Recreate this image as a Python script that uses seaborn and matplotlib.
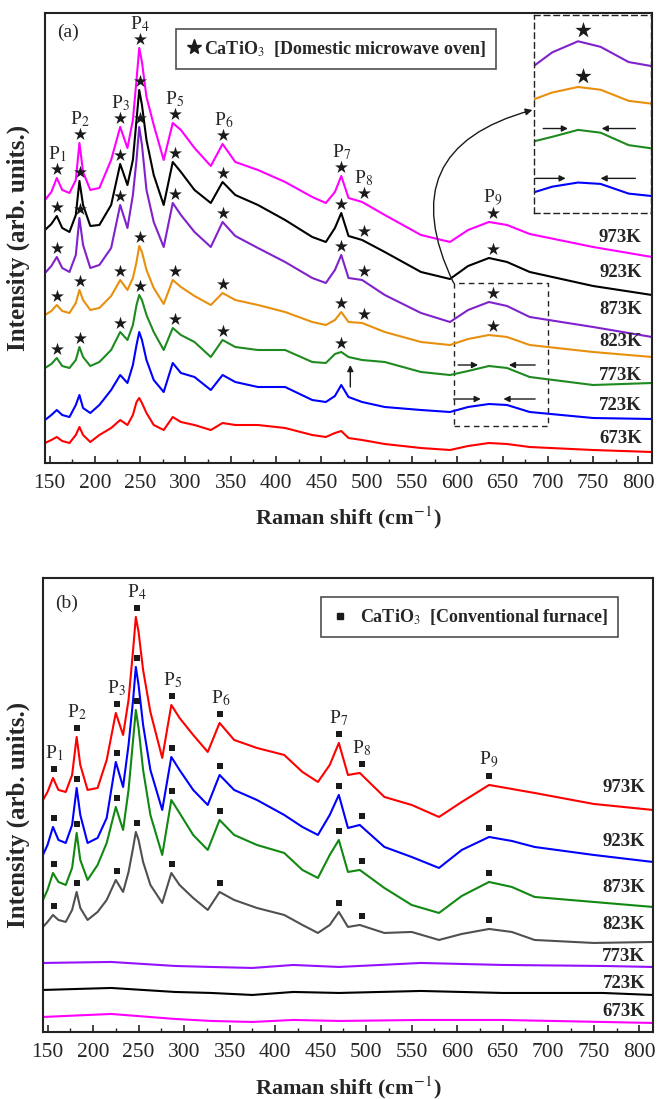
import numpy as np
import pandas as pd
import matplotlib
matplotlib.use("Agg")
import matplotlib.pyplot as plt
from matplotlib.lines import Line2D
from matplotlib.patches import Rectangle
import seaborn as sns

# ---------------- data (arb. units) ----------------
temps = ["973K", "923K", "873K", "823K", "773K", "723K", "673K"]
peak_names = ["1", "2", "3", "4", "5", "6", "7", "8", "9"]

# panel (a): domestic microwave oven
shift_a = [145, 152, 158, 164, 172, 179, 183, 187, 195, 205, 218, 228, 236, 242, 246, 249, 252, 257, 265, 276,
           286, 295, 310, 328, 341, 355, 380, 410, 440, 455, 465, 472, 480, 495, 520, 560, 592, 612, 635, 655,
           680, 750, 815]
mw_973 = [263, 271, 285, 273, 270, 283, 320, 291, 273, 275, 303, 336, 315, 343, 383, 415, 401, 366, 338, 303,
          340, 333, 315, 297, 319, 301, 293, 281, 266, 260, 271, 287, 265, 261, 248, 228, 221, 233, 241, 238,
          229, 216, 206]
mw_923 = [233, 239, 247, 235, 231, 248, 282, 258, 237, 238, 258, 299, 278, 303, 343, 373, 358, 323, 288, 258,
          301, 291, 273, 260, 281, 268, 258, 243, 226, 221, 235, 250, 227, 223, 211, 191, 184, 197, 205, 201,
          191, 177, 168]
mw_873 = [190, 197, 206, 195, 191, 208, 245, 218, 195, 198, 215, 258, 235, 268, 303, 336, 318, 273, 241, 216,
          260, 248, 231, 216, 241, 227, 215, 201, 185, 180, 193, 208, 185, 183, 168, 150, 141, 153, 161, 157,
          146, 136, 126]
mw_823 = [148, 152, 158, 152, 150, 160, 173, 163, 153, 155, 167, 183, 173, 185, 201, 217, 211, 193, 175, 159,
          183, 176, 167, 158, 170, 163, 158, 151, 141, 138, 143, 151, 141, 140, 131, 121, 118, 124, 128, 126,
          118, 111, 106]
mw_773 = [95, 99, 105, 97, 95, 103, 116, 106, 97, 101, 113, 131, 123, 138, 158, 168, 163, 148, 131, 113,
          135, 128, 121, 106, 123, 116, 113, 113, 101, 100, 109, 111, 106, 103, 101, 91, 88, 92, 97, 95,
          86, 78, 80]
mw_723 = [43, 48, 53, 48, 46, 58, 68, 55, 50, 58, 73, 88, 80, 98, 118, 131, 123, 103, 83, 71,
          100, 90, 86, 73, 88, 81, 76, 76, 63, 61, 67, 78, 66, 61, 56, 53, 51, 56, 59, 58,
          51, 45, 44]
mw_673 = [20, 23, 26, 22, 20, 28, 36, 28, 21, 28, 35, 43, 38, 48, 61, 65, 60, 50, 38, 33,
          46, 41, 38, 33, 40, 38, 38, 35, 28, 26, 30, 32, 25, 23, 19, 15, 13, 17, 20, 19,
          16, 13, 11]
peaks_a = [158, 184, 228, 250, 288, 342, 472, 497, 639]

# panel (b): conventional furnace
shift_b = [145, 150, 156, 162, 170, 177, 182, 186, 194, 205, 215, 225, 233, 239, 244, 247, 250, 255, 263, 276,
           286, 295, 310, 326, 339, 355, 380, 410, 430, 447, 460, 470, 480, 493, 520, 550, 580, 605, 635, 660,
           685, 750, 815]
cf_973 = [232, 240, 254, 242, 240, 257, 295, 267, 242, 244, 272, 319, 297, 332, 382, 415, 400, 362, 320, 274,
          327, 314, 297, 280, 309, 292, 284, 277, 260, 250, 267, 289, 257, 259, 235, 227, 215, 230, 247, 243,
          239, 228, 222]
cf_923 = [177, 187, 205, 192, 189, 207, 244, 217, 189, 194, 214, 270, 245, 287, 332, 365, 347, 307, 262, 222,
          275, 262, 242, 227, 257, 242, 232, 217, 205, 197, 217, 237, 204, 207, 185, 175, 164, 182, 195, 191,
          185, 177, 170]
cf_873 = [132, 142, 159, 150, 147, 164, 199, 172, 152, 167, 189, 225, 202, 242, 292, 322, 304, 262, 217, 177,
          232, 219, 197, 182, 212, 197, 187, 179, 162, 154, 177, 192, 160, 162, 144, 127, 119, 136, 150, 145,
          135, 130, 125]
cf_823 = [105, 110, 117, 112, 110, 122, 140, 124, 112, 120, 132, 152, 140, 160, 184, 200, 192, 170, 147, 129,
          159, 147, 134, 122, 140, 132, 124, 117, 107, 99, 107, 120, 105, 107, 99, 100, 92, 98, 103, 100,
          92, 89, 90]
shift_flat = [145, 220, 290, 330, 375, 420, 470, 560, 650, 760, 815]
cf_773 = [69, 70, 66, 65, 64, 67, 65, 69, 67, 66, 65]
cf_723 = [42, 44, 40, 39, 37, 40, 39, 41, 39, 39, 37]
cf_673 = [15, 18, 13, 11, 10, 12, 11, 12, 12, 10, 9]
peaks_b = [157, 182, 226, 248, 287, 340, 470, 495, 635]

colors_a = ["#ff00ff", "#000000", "#7f22cc", "#e8900e", "#1f8a1f", "#0000ff", "#ff0000"]
colors_b = ["#ff0000", "#0000ff", "#118811", "#505050", "#9311ff", "#000000", "#ff00ff"]

# ---------------- style ----------------
sns.set_theme(style="ticks")
plt.rcParams["font.family"] = ["Liberation Serif", "DejaVu Sans"]
plt.rcParams["mathtext.fontset"] = "stix"


def spectra_frame(parts):
    rows = [pd.DataFrame({"shift": x, "intensity": v, "temp": t}) for t, x, v in parts]
    return pd.concat(rows, ignore_index=True)


def peak_tops(x, vals, peaks, offset, win=6):
    x = np.asarray(x)
    v = np.asarray(vals)
    return [v[np.abs(x - p) <= win].max() + offset for p in peaks]


def style_axis(ax, ylim):
    ax.set_xlim(145, 815)
    ax.set_ylim(*ylim)
    ax.set_yticks([])
    ax.set_xticks(np.arange(150, 801, 50))
    ax.set_xticks(np.arange(175, 801, 50), minor=True)
    ax.tick_params(axis="x", which="major", direction="in", length=5, width=1.2, labelsize=15.5, pad=8)
    ax.tick_params(axis="x", which="minor", direction="in", length=3, width=1.0)
    for s in ax.spines.values():
        s.set_linewidth(1.5)
        s.set_color("#222222")
    ax.set_xlabel("Raman shift (cm$^{-1}$)", fontsize=16, fontweight="bold")
    ax.set_ylabel("Intensity (arb. units.)", fontsize=18, fontweight="bold")
    ax.xaxis.set_label_coords(0.5, -0.093)
    ax.yaxis.set_label_coords(-0.025, 0.5)


def arrow(ax, tail, head, **kw):
    ax.annotate("", xy=head, xytext=tail,
                arrowprops=dict(arrowstyle="-|>", color="k", lw=1.0, mutation_scale=9, shrinkA=0, shrinkB=0, **kw))


fig = plt.figure(figsize=(6.58, 10.99), dpi=100)
ax_a = fig.add_axes([0.0684, 0.5787, 0.9225, 0.4095])
ax_b = fig.add_axes([0.0653, 0.0610, 0.9270, 0.4131])

# ---------------- panel (a) ----------------
curves_a = [mw_973, mw_923, mw_873, mw_823, mw_773, mw_723, mw_673]
df_a = spectra_frame([(t, shift_a, v) for t, v in zip(temps, curves_a)])
sns.lineplot(data=df_a, x="shift", y="intensity", hue="temp", palette=dict(zip(temps, colors_a)),
             estimator=None, sort=False, lw=1.5, legend=False, ax=ax_a)

n_marked_a = [9, 9, 9, 9, 7, 0, 0]
for vals, n in zip(curves_a, n_marked_a):
    if n:
        ax_a.scatter(peaks_a[:n], peak_tops(shift_a, vals, peaks_a[:n], 9), marker="*", s=95,
                     color="k", linewidths=0, zorder=5)
for p, y, name in zip(peaks_a, peak_tops(shift_a, mw_973, peaks_a, 24), peak_names):
    ax_a.text(p, y, f"P$_{name}$", ha="center", va="center", fontsize=14)

label_h_a = [225, 190, 153, 121, 88, 58, 25]
for t, h in zip(temps, label_h_a):
    ax_a.text(780, h, t, ha="center", va="center", fontsize=13.5, fontweight="bold")

# dashed zoom box + arrows marking the P9 doublet
ax_a.add_patch(Rectangle((596, 37), 104, 143, fill=False, ls=(0, (4, 3)), lw=1.0, ec="#222222"))
arrow(ax_a, (601, 98), (623, 98))
arrow(ax_a, (686, 98), (657, 98))
arrow(ax_a, (596, 64), (626, 64))
arrow(ax_a, (686, 64), (651, 64))
arrow(ax_a, (482, 76), (482, 98))
ax_a.annotate("", xy=(683, 353), xytext=(596, 180),
              arrowprops=dict(arrowstyle="-|>", color="k", lw=1.0, mutation_scale=10,
                              connectionstyle="arc3,rad=-0.6", shrinkA=0, shrinkB=0))

# inset: magnified P9 region
ins = ax_a.inset_axes([685, 250, 129, 198], transform=ax_a.transData)
df_in = spectra_frame([(t, shift_a, v) for t, v in zip(temps[2:6], curves_a[2:6])])
sns.lineplot(data=df_in, x="shift", y="intensity", hue="temp", palette=dict(zip(temps[2:6], colors_a[2:6])),
             estimator=None, sort=False, lw=1.5, legend=False, ax=ins)
ins.set_xlim(596, 700)
ins.set_ylim(37, 180)
ins.set_xticks([])
ins.set_yticks([])
ins.set_xlabel("")
ins.set_ylabel("")
for s in ins.spines.values():
    s.set_linestyle((0, (4, 3)))
    s.set_linewidth(1.0)
    s.set_color("#222222")
for vals in (mw_873, mw_823):
    ins.scatter([639], peak_tops(shift_a, vals, [639], 8), marker="*", s=150, color="k", linewidths=0, zorder=5)
arrow(ins, (604, 98), (626, 98))
arrow(ins, (686, 98), (656, 98))
arrow(ins, (597, 62), (624, 62))
arrow(ins, (686, 62), (655, 62))

style_axis(ax_a, (0, 450))
ax_a.text(0.02, 0.956, "(a)", transform=ax_a.transAxes, ha="left", va="center", fontsize=14)
leg_a = ax_a.legend(handles=[Line2D([], [], marker="*", ls="none", color="k", ms=11)],
                    labels=["CaTiO$_3$  [Domestic microwave oven]"], loc="upper left",
                    bbox_to_anchor=(0.215, 0.965), frameon=True, fancybox=False, edgecolor="#222222",
                    prop=dict(weight="bold", size=13), handletextpad=0.05, handlelength=1.0,
                    borderpad=0.55, borderaxespad=0)
leg_a.get_frame().set_linewidth(1.2)

# ---------------- panel (b) ----------------
curves_b = [cf_973, cf_923, cf_873, cf_823, cf_773, cf_723, cf_673]
shifts_b = [shift_b] * 4 + [shift_flat] * 3
df_b = spectra_frame([(t, x, v) for t, x, v in zip(temps, shifts_b, curves_b)])
sns.lineplot(data=df_b, x="shift", y="intensity", hue="temp", palette=dict(zip(temps, colors_b)),
             estimator=None, sort=False, lw=1.5, legend=False, ax=ax_b)

for vals in curves_b[:4]:
    ax_b.scatter(peaks_b, peak_tops(shift_b, vals, peaks_b, 9), marker="s", s=22,
                 color="k", linewidths=0, zorder=5)
for p, y, name in zip(peaks_b, peak_tops(shift_b, cf_973, peaks_b, 25), peak_names):
    ax_b.text(p, y, f"P$_{name}$", ha="center", va="center", fontsize=14)

label_h_b = [244, 190, 144, 107, 75, 48, 20]
for t, h in zip(temps, label_h_b):
    ax_b.text(783, h, t, ha="center", va="center", fontsize=13.5, fontweight="bold")

style_axis(ax_b, (0, 454))
ax_b.yaxis.set_label_coords(-0.022, 0.478)
ax_b.text(0.02, 0.945, "(b)", transform=ax_b.transAxes, ha="left", va="center", fontsize=14)
leg_b = ax_b.legend(handles=[Line2D([], [], marker="s", ls="none", color="k", ms=5)],
                    labels=["CaTiO$_3$  [Conventional furnace]"], loc="upper left",
                    bbox_to_anchor=(0.456, 0.958), frameon=True, fancybox=False, edgecolor="#222222",
                    prop=dict(weight="bold", size=13), handletextpad=0.6, handlelength=1.0,
                    borderpad=0.55, borderaxespad=0)
leg_b.get_frame().set_linewidth(1.2)

fig.savefig("out.png", dpi=100, facecolor="white")
